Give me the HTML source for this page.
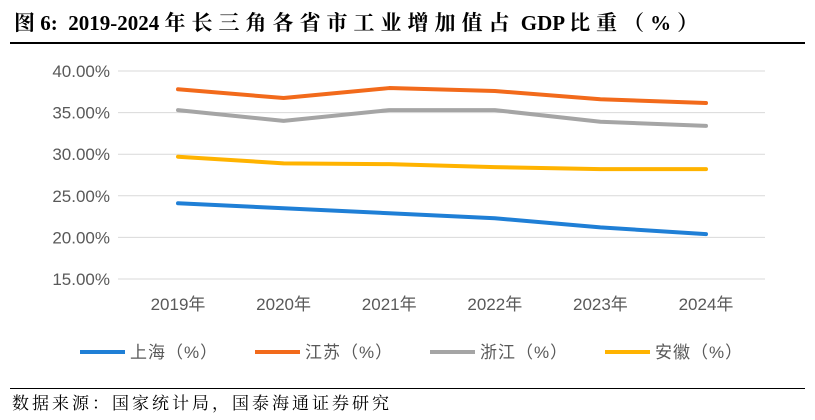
<!DOCTYPE html>
<html><head><meta charset="utf-8"><style>
body{margin:0;width:815px;height:420px;background:#fff;overflow:hidden;font-family:"Liberation Sans","Noto Sans CJK SC",sans-serif;}
#title{position:absolute;left:14px;top:7px;font-family:"Liberation Serif","Noto Serif CJK SC",serif;font-weight:bold;font-size:21px;color:#000;white-space:nowrap;}
#title .c{letter-spacing:6px;}
#src{position:absolute;left:12px;top:389px;font-family:"Liberation Serif","Noto Serif CJK SC",serif;font-size:17px;letter-spacing:3px;color:#000;}
.rule{position:absolute;left:10px;width:795px;height:0;border-top:2px solid #000;}
</style></head><body>
<div id="title">图 6:&nbsp; 2019-2024 <span class="c">年长三角各省市工业增加值占</span> GDP <span class="c">比重（%）</span></div>
<div class="rule" style="top:42px"></div>
<div class="rule" style="top:388px;border-top-width:1.5px"></div>
<div id="src">数据来源：国家统计局，国泰海通证券研究</div>
<svg id="chart" width="815" height="420" style="position:absolute;left:0;top:0"></svg>
<script>
const categories=["2019年","2020年","2021年","2022年","2023年","2024年"];
const yTicks=[15,20,25,30,35,40];
const seriesNames=["上海（%）","江苏（%）","浙江（%）","安徽（%）"];
const shanghai=[24.1,23.5,22.9,22.3,21.2,20.4];
const jiangsu=[37.8,36.75,37.95,37.6,36.6,36.15];
const zhejiang=[35.3,34.0,35.3,35.3,33.9,33.4];
const anhui=[29.7,28.9,28.8,28.45,28.2,28.2];
const seriesData=[shanghai,jiangsu,zhejiang,anhui];
const colors=["#1f7fd6","#f26a1b","#a5a5a5","#ffb300"];
const svg=document.getElementById('chart');const NS="http://www.w3.org/2000/svg";
function y(v){return 279-(v-15)*(208/25);}
function x(i){return 178+i*105.6;}
function mk(t,a){const e=document.createElementNS(NS,t);for(const k in a)e.setAttribute(k,a[k]);svg.appendChild(e);return e;}
yTicks.forEach(v=>{
 const g=mk('line',{x1:118,x2:765,y1:y(v),y2:y(v),stroke:'#d9d9d9','stroke-width':1});
 
 
 const t=mk('text',{x:110,y:y(v)+6,'text-anchor':'end','font-size':17,fill:'#595959','font-family':'Liberation Sans, sans-serif'});
 t.textContent=v.toFixed(2)+'%';
 
 
});
categories.forEach((c,i)=>{
 const t=mk('text',{x:x(i),y:310,'text-anchor':'middle','font-size':17,fill:'#595959','font-family':'Liberation Sans, Noto Sans CJK SC, sans-serif'});
 t.textContent=c;
 
 
});
seriesData.forEach((d,s)=>{
 const p=mk('polyline',{points:d.map((v,i)=>x(i)+','+y(v)).join(' '),fill:'none',stroke:colors[s],'stroke-width':4,'stroke-linejoin':'round','stroke-linecap':'round'});
 
 
 const lx=80+s*175;
 const l=mk('line',{x1:lx,x2:lx+45,y1:352,y2:352,stroke:colors[s],'stroke-width':4});
 
 
 const t=mk('text',{x:lx+50,y:358,'font-size':17,fill:'#595959','font-family':'Liberation Sans, Noto Sans CJK SC, sans-serif','letter-spacing':1});
 t.textContent=seriesNames[s];
 
 
});
</script>
</body></html>
